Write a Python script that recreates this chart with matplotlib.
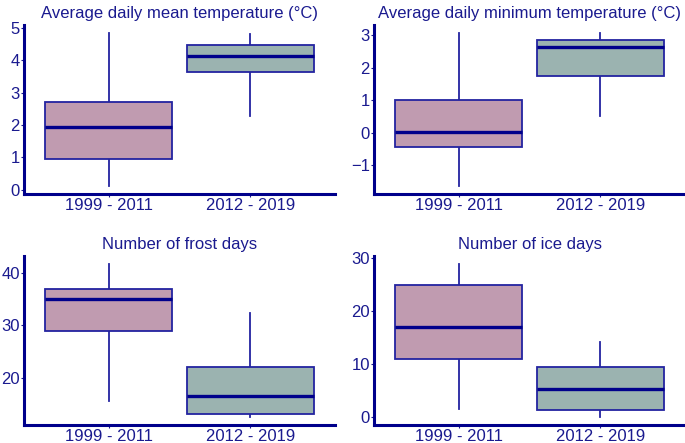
import matplotlib
matplotlib.use('Agg')
import matplotlib.pyplot as plt

plt.rcParams['font.family'] = ['Liberation Sans', 'DejaVu Sans']

periods = ['1999 - 2011', '2012 - 2019']
titles = ['Average daily mean temperature (°C)',
          'Average daily minimum temperature (°C)',
          'Number of frost days',
          'Number of ice days']

# box statistics per panel: [period1, period2]
whislo = [[0.1, 2.27], [-1.65, 0.52], [15.6, 12.4], [1.6, 0.0]]
q1 = [[0.95, 3.62], [-0.43, 1.74], [29.0, 13.0], [11.0, 1.4]]
med = [[1.93, 4.14], [0.03, 2.63], [35.0, 16.5], [17.0, 5.4]]
q3 = [[2.7, 4.48], [1.0, 2.85], [37.0, 22.0], [25.0, 9.5]]
whishi = [[4.85, 4.8], [3.07, 3.05], [41.8, 32.3], [29.0, 14.2]]
yticks = [[0, 1, 2, 3, 4, 5], [-1, 0, 1, 2, 3], [20, 30, 40], [0, 10, 20, 30]]

navy = '#1a1a8f'
fills = ['#c09bb0', '#9bb3b0']

W, H = 685, 443
fig = plt.figure(figsize=(W / 100, H / 100), dpi=100)
# axes rectangles in pixels: left, top, right, bottom
rects = [(24, 25, 335, 194), (374, 25, 685, 194),
         (24, 256, 335, 425), (374, 256, 685, 425)]

for i in range(4):
    l, t, r, b = rects[i]
    ax = fig.add_axes([l / W, 1 - b / H, (r - l) / W, (b - t) / H])
    stats = []
    for j in range(2):
        stats.append({'whislo': whislo[i][j], 'q1': q1[i][j], 'med': med[i][j],
                      'q3': q3[i][j], 'whishi': whishi[i][j], 'fliers': []})
    bp = ax.bxp(stats, positions=[1, 2], widths=0.9, patch_artist=True,
                showcaps=False, showfliers=False,
                boxprops=dict(edgecolor='#2323a0', linewidth=1.3),
                whiskerprops=dict(color='#2323a0', linewidth=1.3),
                medianprops=dict(color='#00008b', linewidth=2.4))
    for patch, c in zip(bp['boxes'], fills):
        patch.set_facecolor(c)
    for w in bp['whiskers']:
        w.set_zorder(0.5)

    lo = min(whislo[i])
    hi = max(whishi[i])
    pad = (hi - lo) * 0.05
    ax.set_ylim(lo - pad, hi + pad)
    ax.set_xlim(0.4, 2.6)
    ax.set_yticks(yticks[i])
    ax.set_xticks([1, 2])
    ax.set_xticklabels(periods)
    ax.set_title(titles[i], color=navy, fontsize=12, pad=5)
    ax.tick_params(colors=navy, labelcolor=navy, labelsize=12, length=2.5, width=0.8, pad=0.5)
    for s in ['top', 'right']:
        ax.spines[s].set_visible(False)
    for s in ['left', 'bottom']:
        ax.spines[s].set_color('#00008b')
        ax.spines[s].set_linewidth(2.2)

fig.savefig('out.png', dpi=100)
